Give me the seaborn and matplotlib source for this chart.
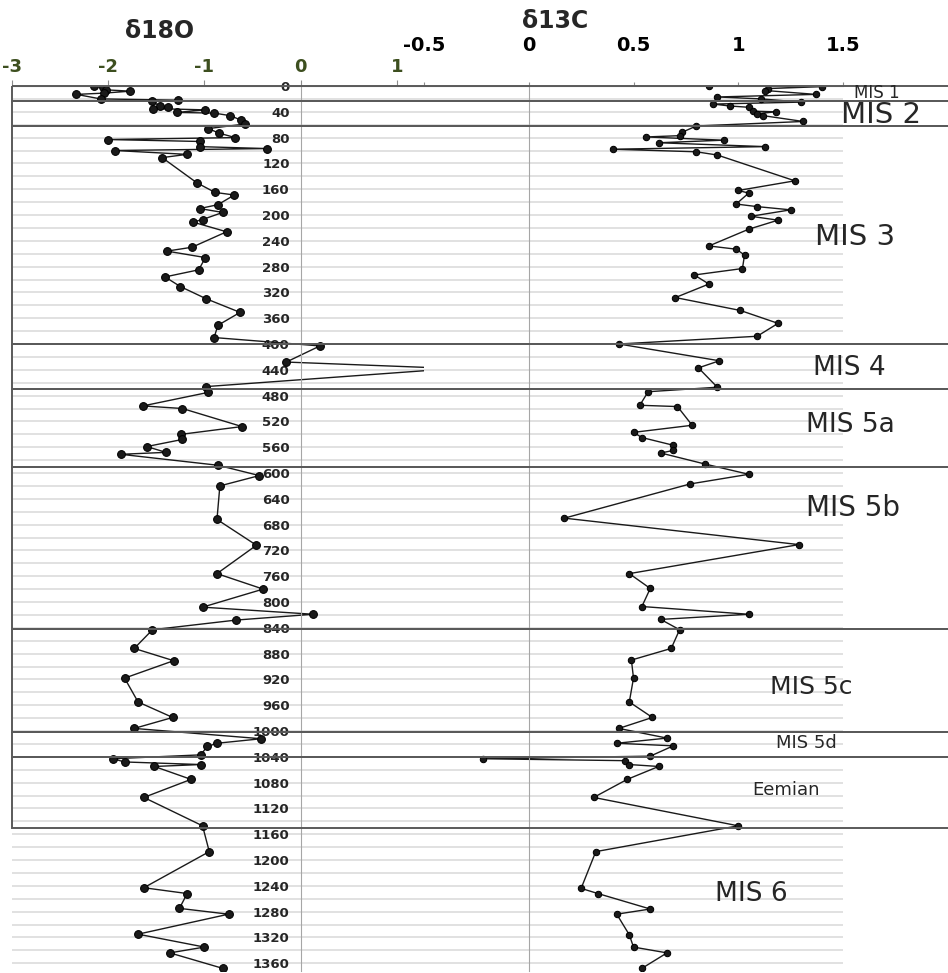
import numpy as np
import pandas as pd
import matplotlib
matplotlib.use("Agg")
import matplotlib.pyplot as plt
import seaborn as sns
from matplotlib.patches import Rectangle
from matplotlib.ticker import MultipleLocator

# ---- data ----
d18o_depth = [0, 2, 6, 8, 11, 13, 20, 22, 24, 31, 33, 35, 37, 41, 42, 46, 53, 59,
              66, 73, 80, 83, 86, 94, 97, 100, 106, 111, 150, 165, 169, 184, 190,
              196, 207, 211, 226, 250, 256, 266, 285, 296, 311, 330, 351, 371, 390,
              403, 428, 438, 466, 475, 496, 500, 528, 540, 548, 559, 568, 571, 588,
              604, 620, 672, 712, 756, 780, 808, 819, 828, 843, 872, 891, 918, 955,
              979, 996, 1012, 1019, 1024, 1037, 1043, 1048, 1052, 1055, 1075, 1103,
              1147, 1187, 1243, 1252, 1275, 1284, 1315, 1335, 1344, 1368]
d18o = [-2.15, -2.05, -2.02, -1.77, -2.04, -2.33, -2.08, -1.28, -1.55, -1.46, -1.38,
        -1.53, -0.99, -1.29, -0.90, -0.73, -0.62, -0.58, -0.96, -0.85, -0.68, -2.00,
        -1.05, -1.05, -0.35, -1.93, -1.18, -1.44, -1.08, -0.89, -0.69, -0.86, -1.05,
        -0.81, -1.02, -1.12, -0.77, -1.13, -1.39, -0.99, -1.06, -1.41, -1.25, -0.98,
        -0.63, -0.86, -0.90, 0.20, -0.15, 1.60, -0.98, -0.96, -1.64, -1.23, -0.61,
        -1.24, -1.23, -1.60, -1.40, -1.87, -0.86, -0.43, -0.84, -0.87, -0.46, -0.87,
        -0.39, -1.02, 0.13, -0.67, -1.54, -1.73, -1.32, -1.83, -1.69, -1.33, -1.73,
        -0.41, -0.87, -0.97, -1.04, -1.95, -1.83, -1.04, -1.52, -1.14, -1.63, -1.02,
        -0.95, -1.63, -1.18, -1.26, -0.75, -1.69, -1.00, -1.36, -0.81]

d13c_depth = [0, 1, 4, 7, 13, 17, 20, 25, 28, 31, 33, 39, 40, 43, 46, 55, 62, 72, 77,
              79, 84, 88, 94, 98, 102, 107, 147, 162, 166, 183, 187, 192, 202, 208,
              222, 248, 253, 262, 283, 293, 307, 328, 348, 368, 388, 400, 426, 437,
              467, 474, 495, 497, 526, 537, 545, 557, 565, 569, 586, 602, 617, 670,
              711, 756, 779, 807, 819, 827, 843, 872, 890, 918, 955, 979, 996, 1011,
              1019, 1023, 1039, 1043, 1046, 1052, 1055, 1075, 1103, 1147, 1187, 1244,
              1252, 1276, 1284, 1316, 1335, 1344, 1368]
d13c = [0.86, 1.40, 1.14, 1.13, 1.37, 0.90, 1.11, 1.30, 0.88, 0.96, 1.05, 1.07, 1.18,
        1.09, 1.12, 1.31, 0.80, 0.73, 0.72, 0.56, 0.93, 0.62, 1.13, 0.40, 0.80, 0.90,
        1.27, 1.00, 1.05, 0.99, 1.09, 1.25, 1.06, 1.19, 1.05, 0.86, 0.99, 1.03, 1.02,
        0.79, 0.86, 0.70, 1.01, 1.19, 1.09, 0.43, 0.91, 0.81, 0.90, 0.57, 0.53, 0.71,
        0.78, 0.50, 0.54, 0.69, 0.69, 0.63, 0.84, 1.05, 0.77, 0.17, 1.29, 0.48, 0.58,
        0.54, 1.05, 0.63, 0.72, 0.68, 0.49, 0.50, 0.48, 0.59, 0.43, 0.66, 0.42, 0.69,
        0.58, -0.22, 0.46, 0.48, 0.62, 0.47, 0.31, 1.00, 0.32, 0.25, 0.33, 0.58, 0.42,
        0.48, 0.50, 0.66, 0.54]

zone_names = ["MIS 1", "MIS 2", "MIS 3", "MIS 4", "MIS 5a", "MIS 5b", "MIS 5c",
              "MIS 5d", "Eemian", "MIS 6"]
zone_top = [0, 23, 62, 400, 470, 591, 842, 1001, 1041]
zone_bottom = [23, 62, 400, 470, 591, 842, 1001, 1041, 1151]

o_ticks = [-3, -2, -1, 0, 1]
c_ticks = [-0.5, 0, 0.5, 1, 1.5]
depth_ticks = list(range(0, 1361, 40))

df_o = pd.DataFrame({"depth": d18o_depth, "d18O": d18o})
df_c = pd.DataFrame({"depth": d13c_depth, "d13C": d13c})

# ---- layout (pixel based) ----
W, H = 948, 973
Y0, Y1 = 86, 971           # pixel rows of depth 0 and bottom of plot
DMAX = (Y1 - Y0) / 0.645


def fx(px):
    return px / W


def fy(py):
    return 1 - py / H


sns.set_style("white")
plt.rcParams["font.family"] = ["DejaVu Sans"]

fig = plt.figure(figsize=(9.48, 9.73), dpi=100)
ax1 = fig.add_axes([fx(12), fy(Y1), (424 - 12) / W, (Y1 - Y0) / H])
ax2 = fig.add_axes([fx(424), fy(Y1), (843 - 424) / W, (Y1 - Y0) / H])
axb = fig.add_axes([fx(12), fy(Y1), (948 - 12) / W, (Y1 - Y0) / H])

line_kw = dict(sort=False, estimator=None, orient="y", marker="o", color="#1a1a1a",
               linewidth=1.0, markeredgecolor="black", legend=False)
sns.lineplot(data=df_o, x="d18O", y="depth", ax=ax1, markersize=5.6, **line_kw)
sns.lineplot(data=df_c, x="d13C", y="depth", ax=ax2, markersize=4.6, **line_kw)

for ax in (ax1, ax2):
    ax.set_ylim(DMAX, 0)
    ax.yaxis.set_major_locator(MultipleLocator(40))
    ax.yaxis.set_minor_locator(MultipleLocator(20))
    ax.yaxis.grid(True, which="both", color="#d9d9d9", linewidth=1.1)
    ax.xaxis.grid(False)
    ax.set_axisbelow(True)
    ax.spines["right"].set_visible(False)
    ax.spines["bottom"].set_visible(False)
    ax.spines["left"].set_position(("data", 0))
    ax.spines["left"].set_color("#a6a6a6")
    ax.spines["top"].set_color("#8c8c8c")
    ax.xaxis.tick_top()
    ax.set_xlabel("")
    ax.set_ylabel("")
    ax.tick_params(axis="y", which="both", length=3, color="#a6a6a6")

ax1.set_xlim(-3, (424 - 300.7) / 96.23)
ax1.set_xticks(o_ticks)
ax1.set_xticklabels([f"{t:g}" for t in o_ticks], fontsize=13, fontweight="bold",
                    color="#3d4f1f")
ax1.tick_params(axis="x", length=4, color="#8c8c8c", pad=3)
ax1.set_yticks(depth_ticks)
ax1.set_yticklabels([str(d) for d in depth_ticks], fontsize=9.5, fontweight="bold",
                    color="#262626")
ax1.tick_params(axis="y", which="major", pad=5)

ax2.set_xlim(-0.5, 1.5)
ax2.set_xticks(c_ticks)
ax2.set_xticklabels([f"{t:g}" for t in c_ticks], fontsize=14, fontweight="bold",
                    color="black")
ax2.tick_params(axis="x", length=3, color="#8c8c8c", pad=19)
ax2.tick_params(axis="y", labelleft=False)

# MIS zone boxes
axb.set_xlim(0, 1)
axb.set_ylim(DMAX, 0)
axb.axis("off")
axb.patch.set_visible(False)
for top, bot in zip(zone_top, zone_bottom):
    axb.add_patch(Rectangle((0, top), 1.05, bot - top, fill=False,
                            edgecolor="#5a5a5a", linewidth=1.4, clip_on=False))

# zone labels: (x px, y px, font size)
label_pos = [(877, 93, 12), (881, 115, 21), (855, 237, 21), (849, 368, 19),
             (850, 425, 19), (853, 508, 20), (811, 687, 18), (806, 743, 13),
             (786, 790, 13), (751, 894, 19)]
for name, (px, py, fs) in zip(zone_names, label_pos):
    fig.text(fx(px), fy(py), name, ha="center", va="center", fontsize=fs,
             color="#262626")

fig.text(fx(160), fy(31), "δ18O", ha="center", va="center", fontsize=17,
         fontweight="bold")
fig.text(fx(555), fy(21), "δ13C", ha="center", va="center", fontsize=17,
         fontweight="bold")

fig.savefig("out.png", dpi=100, facecolor="white")
